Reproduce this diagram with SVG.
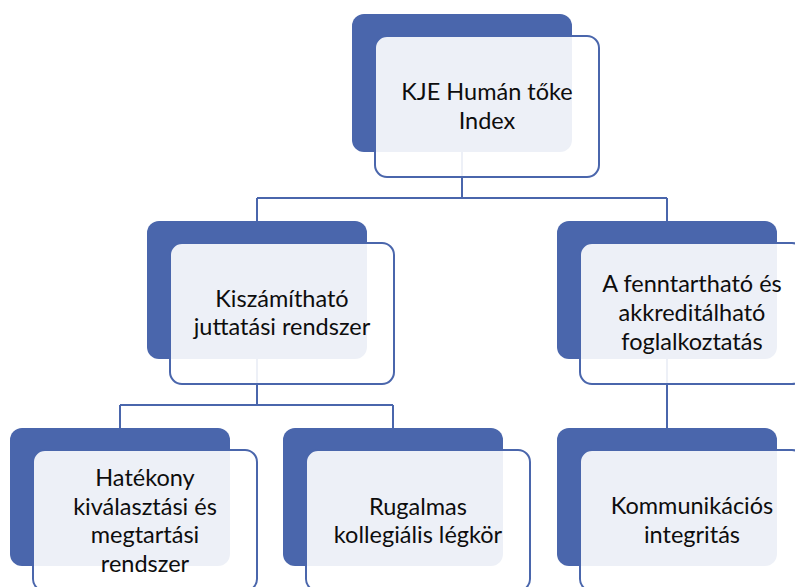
<svg xmlns="http://www.w3.org/2000/svg" width="795" height="587" viewBox="0 0 795 587">
<style>
.back{fill:#4A66AC;}
.front{fill:#FFFFFF;fill-opacity:0.9;stroke:#4A66AC;stroke-width:2;}
.conn{fill:none;stroke:#4A66AC;stroke-width:2;}
text{font-family:Lato,"Liberation Sans",sans-serif;font-size:23.5px;fill:#0D0D0D;text-anchor:middle;}
</style>
<rect width="795" height="587" fill="#FFFFFF"/>
<g id="connectors">
<path class="conn" d="M462,152 V198 M257,198 H667 M257,198 V221 M667,198 V221"/>
<path class="conn" d="M257,359 V405 M120,405 H393 M120,405 V428 M393,405 V428"/>
<path class="conn" d="M667,359 V428"/>
</g>
<g id="node-root">
<rect class="back" x="352" y="14" width="220" height="138" rx="12"/>
<rect class="front" x="375" y="36" width="224" height="141" rx="12"/>
<text x="487" y="100">KJE Humán tőke</text>
<text x="487" y="129">Index</text>
</g>
<g id="node-kiszamithato">
<rect class="back" x="147" y="221" width="220" height="138" rx="12"/>
<rect class="front" x="170" y="243" width="224" height="141" rx="12"/>
<text x="282" y="306.5">Kiszámítható</text>
<text x="282" y="335">juttatási rendszer</text>
</g>
<g id="node-fenntarthato">
<rect class="back" x="557" y="221" width="220" height="138" rx="12"/>
<rect class="front" x="580" y="243" width="224" height="141" rx="12"/>
<text x="692" y="292">A fenntartható és</text>
<text x="692" y="321">akkreditálható</text>
<text x="692" y="349.5">foglalkoztatás</text>
</g>
<g id="node-hatekony">
<rect class="back" x="10" y="428" width="220" height="138" rx="12"/>
<rect class="front" x="33" y="450" width="224" height="141" rx="12"/>
<text x="145" y="486">Hatékony</text>
<text x="145" y="514.5">kiválasztási és</text>
<text x="145" y="543">megtartási</text>
<text x="145" y="571.5">rendszer</text>
</g>
<g id="node-rugalmas">
<rect class="back" x="283" y="428" width="220" height="138" rx="12"/>
<rect class="front" x="306" y="450" width="224" height="141" rx="12"/>
<text x="418" y="514.5">Rugalmas</text>
<text x="418" y="543">kollegiális légkör</text>
</g>
<g id="node-kommunikacios">
<rect class="back" x="557" y="428" width="220" height="138" rx="12"/>
<rect class="front" x="580" y="450" width="224" height="141" rx="12"/>
<text x="692" y="514">Kommunikációs</text>
<text x="692" y="543">integritás</text>
</g>
</svg>
